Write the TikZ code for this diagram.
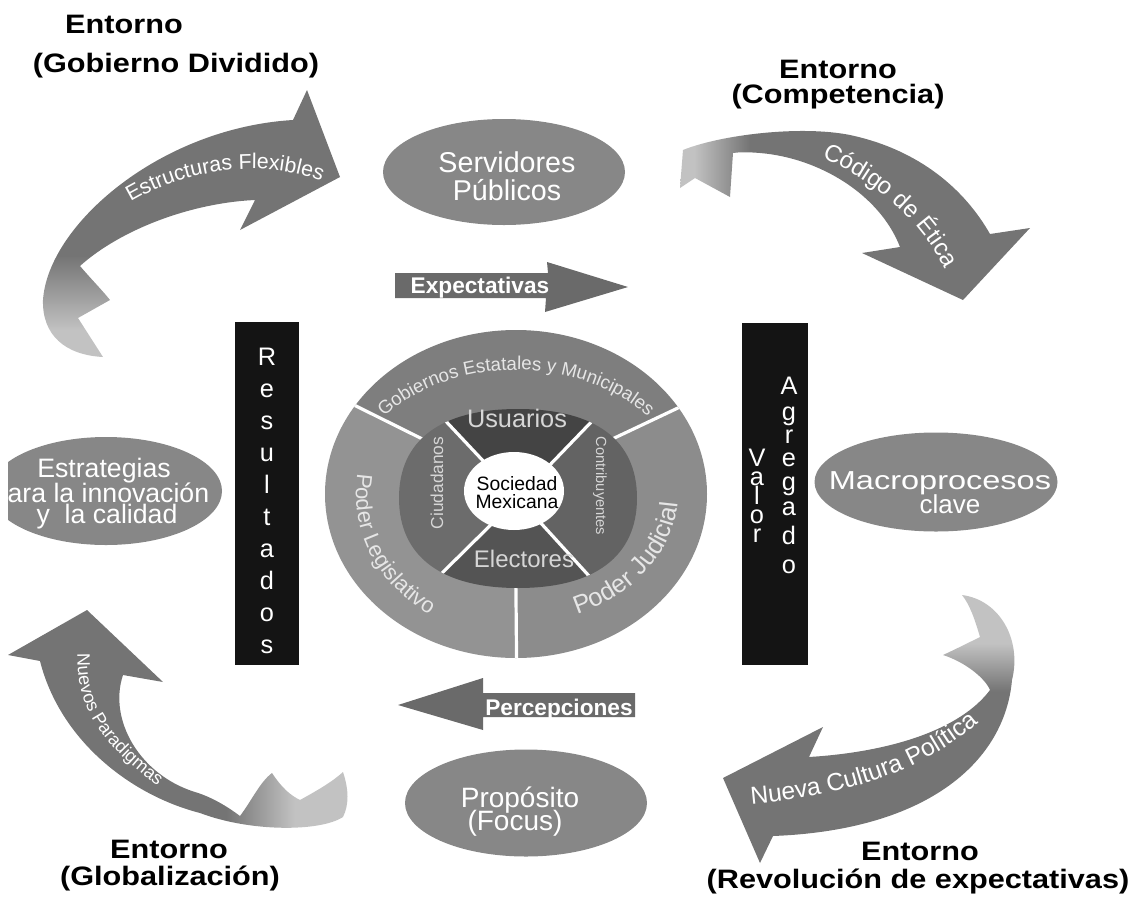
\documentclass[tikz,border=0pt]{standalone}
\usepackage{fontspec}
\setmainfont{Liberation Sans}
\newfontfamily\titlefont[FakeStretch=1.15]{Liberation Sans}
\newfontfamily\widefont[FakeStretch=1.25]{Liberation Sans}
\usetikzlibrary{shapes.geometric,decorations.text}

\newcommand\fsz[2]{\fontsize{#1}{#2}\selectfont}
\newcommand\txtA{\fontsize{16}{16}\selectfont}
\newcommand\txtB{\fontsize{18}{18}\selectfont}
\newcommand\txtC{\fontsize{13.5}{13.5}\selectfont}
\newcommand\txtD{\fontsize{18.5}{18.5}\selectfont}
\newcommand\txtE{\fontsize{14}{14}\selectfont}
\newcommand\txtF{\fontsize{16.5}{16.5}\selectfont}
\newcommand\txtG{\fontsize{19}{19}\selectfont}

\definecolor{arrowC}{HTML}{747474}
\definecolor{tailC}{HTML}{C2C2C2}
\definecolor{blobC}{HTML}{878787}
\definecolor{govC}{HTML}{7E7E7E}
\definecolor{legC}{HTML}{939393}
\definecolor{judC}{HTML}{8C8C8C}
\definecolor{usuC}{HTML}{444444}
\definecolor{conC}{HTML}{636363}
\definecolor{eleC}{HTML}{545454}
\definecolor{ciuC}{HTML}{6C6C6C}
\definecolor{flowC}{HTML}{6A6A6A}
\definecolor{ringTxt}{HTML}{E6E6E6}
\definecolor{innerTxt}{HTML}{D6D6D6}

% fades towards the tail of each curved arrow
\pgfdeclareverticalshading{tlfade}{100bp}{color(0bp)=(tailC); color(30bp)=(tailC); color(44bp)=(arrowC); color(100bp)=(arrowC)}
\pgfdeclarehorizontalshading{trfade}{100bp}{color(0bp)=(tailC); color(27bp)=(tailC); color(35bp)=(arrowC); color(100bp)=(arrowC)}
\pgfdeclarehorizontalshading{blfade}{100bp}{color(0bp)=(arrowC); color(57bp)=(arrowC); color(67bp)=(tailC); color(100bp)=(tailC)}
\pgfdeclareverticalshading{brfade}{100bp}{color(0bp)=(arrowC); color(57bp)=(arrowC); color(66bp)=(tailC); color(100bp)=(tailC)}

\tikzset{
  blob/.style={ellipse, fill=blobC, inner sep=0pt},
  blobtext/.style={text=white, anchor=base, inner sep=0pt, font=\fsz{21}{21}},
  envtitle/.style={anchor=base, inner sep=0pt, font=\titlefont\bfseries\fsz{20}{24}},
  blackbox/.style={fill=black!92, inner sep=0pt},
  boxletter/.style={text=white, anchor=base, inner sep=0pt, font=\fsz{19}{19}},
  flowarrow/.style={fill=flowC},
  flowtext/.style={text=white, anchor=base, inner sep=0pt, font=\bfseries\fsz{17}{17}},
  divider/.style={white, line width=2.4pt},
  innerlbl/.style={text=innerTxt, inner sep=0pt},
}

\begin{document}
\begin{tikzpicture}[x=0.75pt, y=-0.75pt]
\useasboundingbox (0,0) rectangle (1133,897);

% ---------- curved arrows ----------
% upper left: Estructuras Flexibles
\path[shading=tlfade] (110,300) -- (78,318) -- (103,357)
  .. controls (65,355) and (42,335) .. (43,300)
  .. controls (48,225) and (160,128) .. (293,120)
  -- (307,90) -- (340,177) -- (240,230) -- (255,200)
  .. controls (190,203) and (120,230) .. (80,266)
  .. controls (92,280) and (102,290) .. (110,300) -- cycle;
\path[decorate, decoration={text along path, text align=center, text color=white,
  text={|\txtA|Estructuras Flexibles}}]
  (110,216) .. controls (170,170) and (270,150) .. (344,192);

% upper right: Codigo de Etica
\path[shading=trfade] (683,150) .. controls (720,135) and (800,125) .. (850,135)
  .. controls (920,150) and (965,190) .. (990,234)
  -- (1030,228) -- (963,300) -- (862,253) -- (900,247)
  .. controls (880,195) and (820,158) .. (760,153)
  .. controls (748,152) and (740,152) .. (733,153)
  -- (730,197) -- (695,178) -- (680,188) -- cycle;
\path[decorate, decoration={text along path, text align=center, text color=white,
  text={|\txtB|Código de Ética}}]
  (794,146) .. controls (865,172) and (925,215) .. (958,296);

% lower left: Nuevos Paradigmas
\path[shading=blfade] (87,610) -- (163,682) -- (123,675)
  .. controls (108,720) and (140,775) .. (195,792)
  .. controls (215,798) and (232,810) .. (240,816)
  .. controls (252,800) and (260,782) .. (272,773)
  .. controls (282,788) and (290,795) .. (300,800)
  .. controls (318,790) and (332,782) .. (343,772)
  .. controls (349,790) and (349,805) .. (343,817)
  .. controls (320,832) and (250,832) .. (200,813)
  .. controls (130,795) and (60,740) .. (40,661)
  -- (8,655) -- cycle;
\path[decorate, decoration={text along path, text align=center, text color=white,
  text={|\txtC|Nuevos Paradigmas}}]
  (80,626) .. controls (68,705) and (97,745) .. (180,802);

% lower right: Nueva Cultura Politica
\path[shading=brfade] (962,595) .. controls (1000,600) and (1022,640) .. (1012,680)
  .. controls (1005,760) and (930,830) .. (773,836)
  -- (760,863) -- (723,778) -- (823,727) -- (809,757)
  .. controls (890,752) and (960,730) .. (990,690)
  .. controls (985,678) and (965,662) .. (943,655)
  .. controls (958,648) and (970,642) .. (980,637)
  .. controls (975,620) and (970,605) .. (962,595) -- cycle;
\path[decorate, decoration={text along path, text align=center, text color=white,
  text={|\txtD|Nueva Cultura Política}}]
  (730,806) .. controls (830,800) and (930,775) .. (994,708);

% ---------- ellipses ----------
\node[blob, minimum width=181.5pt, minimum height=79.5pt] (serv) at (504,172) {};
\node[blobtext, font=\fsz{21.5}{21.5}] (servA) at (507,172) {Servidores};
\node[blobtext, font=\fsz{21.5}{21.5}] (servB) at (507,200) {Públicos};

\begin{scope}
  \clip (8,0) rectangle (1133,897);
  \node[blob, minimum width=174pt, minimum height=81pt] (estr) at (106,491) {};
  \node[blobtext, font=\fsz{20}{20}] (estrA) at (104,477) {Estrategias};
  \node[blobtext, font=\fsz{20}{20}] (estrB) at (101,502) {para la innovación};
  \node[blobtext, font=\fsz{20}{20}] (estrC) at (107,523) {y~ la calidad};
\end{scope}

\node[blob, minimum width=182.25pt, minimum height=74.25pt] (macro) at (936,482) {};
\node[blobtext, font=\widefont\fsz{19.5}{19.5}] (macroA) at (940,489) {Macroprocesos};
\node[blobtext, font=\fsz{19.5}{19.5}] (macroB) at (950,513) {clave};

\node[blob, minimum width=181.5pt, minimum height=80.25pt] (prop) at (526,803) {};
\node[blobtext] (propA) at (520,807) {Propósito};
\node[blobtext] (propB) at (515,830) {(Focus)};

% ---------- flow arrows ----------
\path[flowarrow] (395,273) -- (548,273) -- (547,262) -- (628,287) -- (545,312)
  -- (546,298) -- (395,298) -- cycle;
\node[flowtext] (expt) at (480,293) {Expectativas};

\path[flowarrow] (635,693) -- (483,693) -- (483,678) -- (398,705) -- (483,730)
  -- (483,717) -- (635,717) -- cycle;
\node[flowtext] (perc) at (559,715) {Percepciones};

% ---------- central disc ----------
\coordinate (oc) at (516,494);
\coordinate (hub) at (515,485);
\coordinate (ulf) at (201,329);
\coordinate (urf) at (845,329);
\coordinate (btf) at (518,820);
\begin{scope}
  \clip (oc) ellipse [x radius=191, y radius=164];
  \fill[govC] (hub) -- (ulf) -- (201,200) -- (845,200) -- (urf) -- cycle;
  \fill[legC] (hub) -- (ulf) -- (201,820) -- (btf) -- cycle;
  \fill[judC] (hub) -- (btf) -- (845,820) -- (urf) -- cycle;
  \draw[divider] (hub) -- (ulf) (hub) -- (urf) (hub) -- (btf);
\end{scope}

\coordinate (ic) at (518,498);
\coordinate (iul) at (362,332);
\coordinate (iur) at (678,332);
\coordinate (ill) at (356,658);
\coordinate (ilr) at (662,656);
\begin{scope}
  \clip (518,409) .. controls (595.4,409) and (637,440.2) .. (637,498)
    .. controls (637,555.9) and (595.4,588) .. (518,588)
    .. controls (440.6,588) and (399,555.9) .. (399,498)
    .. controls (399,440.2) and (440.6,409) .. (518,409) -- cycle;
  \fill[usuC] (ic) -- (iul) -- (iur) -- cycle;
  \fill[conC] (ic) -- (iur) -- (ilr) -- cycle;
  \fill[eleC] (ic) -- (ilr) -- (ill) -- cycle;
  \fill[ciuC] (ic) -- (ill) -- (iul) -- cycle;
  \draw[divider] (ic) -- (iul) (ic) -- (iur) (ic) -- (ill) (ic) -- (ilr);
\end{scope}

\node[ellipse, fill=white, inner sep=0pt, minimum width=75pt, minimum height=58.5pt] (core) at (514,491) {};
\node[anchor=base, inner sep=0pt, font=\fsz{14.5}{14.5}] (socA) at (517,490) {Sociedad};
\node[anchor=base, inner sep=0pt, font=\fsz{14.5}{14.5}] (socB) at (517,508) {Mexicana};

\node[innerlbl, anchor=base, font=\fsz{19}{19}] (usu) at (517,427) {Usuarios};
\node[innerlbl, anchor=base, font=\fsz{18}{18}] (ele) at (524,567) {Electores};
\node[innerlbl, rotate=90, font=\fsz{13}{13}] (ciu) at (437,483) {Ciudadanos};
\node[innerlbl, rotate=-90, font=\fsz{11}{11}] (con) at (600,486) {Contribuyentes};

% curved labels of the outer ring
\path[decorate, decoration={text along path, text align=center, text color=ringTxt,
  text={|\txtE|Gobiernos Estatales y Municipales}}]
  (358.1,451.6) arc[start angle=200, end angle=340, x radius=168, y radius=124];
\path[decorate, decoration={text along path, text align=center, text color=ringTxt,
  text={|\txtF|Poder Legislativo}}]
  (365.6,445.1) arc[start angle=200, end angle=112, x radius=160, y radius=143];
\path[decorate, decoration={text along path, text align=center, text color=ringTxt,
  text={|\txtG|Poder Judicial}}]
  (544.1,622.0) arc[start angle=80, end angle=-11, x radius=162, y radius=130];

% ---------- black columns ----------
\node[blackbox, minimum width=48pt, minimum height=257.25pt] (resbox) at (267,493.5) {};
\foreach \ch [count=\i] in {R,e,s,u,l,t,a,d,o,s}
  \node[boxletter] (res\i) at (267,{365+32*(\i-1)}) {\ch};

\node[blackbox, minimum width=49.5pt, minimum height=256.5pt] (valbox) at (775,494) {};
\foreach \ch/\yy [count=\i] in {V/466,a/485,l/504,o/523,r/542}
  \node[boxletter] (val\i) at (757,\yy) {\ch};
\foreach \ch/\yy [count=\i] in {A/394,g/420,r/443,e/466,g/490,a/515,d/544,o/573}
  \node[boxletter] (agr\i) at (789,\yy) {\ch};

% ---------- environment titles ----------
\node[envtitle] (envA1) at (124,33) {Entorno};
\node[envtitle] (envA2) at (176,72) {(Gobierno Dividido)};
\node[envtitle] (envB1) at (838,78) {Entorno};
\node[envtitle] (envB2) at (838,103) {(Competencia)};
\node[envtitle] (envC1) at (169,858) {Entorno};
\node[envtitle] (envC2) at (170,885) {(Globalización)};
\node[envtitle] (envD1) at (920,860) {Entorno};
\node[envtitle] (envD2) at (918,888) {(Revolución de expectativas)};
\end{tikzpicture}
\end{document}
